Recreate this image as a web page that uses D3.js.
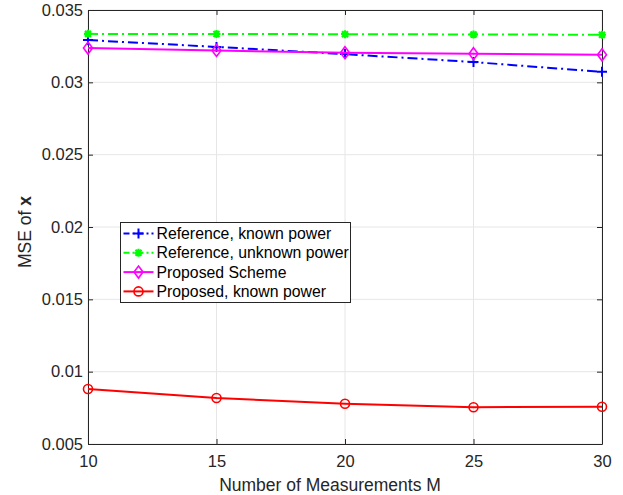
<!DOCTYPE html>
<html>
<head>
<meta charset="utf-8">
<script src="https://cdn.jsdelivr.net/npm/d3@7"></script>
<style>
  body { margin: 0; background: #fff; }
  text { font-family: "Liberation Sans", Arial, sans-serif; }
</style>
</head>
<body>
<script>
// data
const measurements = [10, 15, 20, 25, 30];
const refKnown = [0.03292, 0.03245, 0.03195, 0.0314, 0.03073];
const refUnknown = [0.03335, 0.03334, 0.03333, 0.03331, 0.03329];
const proposed = [0.03237, 0.0322, 0.03205, 0.03198, 0.0319];
const proposedKnown = [0.0088, 0.00818, 0.00778, 0.00754, 0.00758];
const yTicks = [0.005, 0.01, 0.015, 0.02, 0.025, 0.03, 0.035];
const seriesNames = ["Reference, known power", "Reference, unknown power", "Proposed Scheme", "Proposed, known power"];

var W = 623, H = 495;
var margin = { top: 10, right: 21, bottom: 51, left: 88 },
  width = W - margin.left - margin.right,
  height = H - margin.top - margin.bottom;

var svg = d3.select("body").append("svg")
  .attr("width", W)
  .attr("height", H);

var g = svg.append("g").attr("transform", "translate(" + margin.left + "," + margin.top + ")");

var x = d3.scaleLinear().domain([10, 30]).range([0, width]);
var y = d3.scaleLinear().domain([0.005, 0.035]).range([height, 0]);

// grid
g.selectAll(".gx").data(measurements).enter().append("line")
  .attr("x1", d => x(d)).attr("x2", d => x(d))
  .attr("y1", 0).attr("y2", height)
  .attr("stroke", "#e6e6e6");
g.selectAll(".gy").data(yTicks).enter().append("line")
  .attr("x1", 0).attr("x2", width)
  .attr("y1", d => y(d)).attr("y2", d => y(d))
  .attr("stroke", "#e6e6e6");

// axes (matlab style, ticks inward)
var xAxis = g.append("g").attr("transform", "translate(0," + height + ")")
  .call(d3.axisBottom(x).tickValues(measurements).tickSizeInner(-5).tickSizeOuter(0).tickPadding(11));
var yAxis = g.append("g")
  .call(d3.axisLeft(y).tickValues(yTicks).tickFormat(d => +d.toFixed(3) + "").tickSizeInner(-5).tickSizeOuter(0).tickPadding(5));
var xTop = g.append("g")
  .call(d3.axisTop(x).tickValues(measurements).tickFormat("").tickSizeInner(-5).tickSizeOuter(0));
var yRight = g.append("g").attr("transform", "translate(" + width + ",0)")
  .call(d3.axisRight(y).tickValues(yTicks).tickFormat("").tickSizeInner(-5).tickSizeOuter(0));

[xAxis, yAxis, xTop, yRight].forEach(a => {
  a.selectAll("path").attr("stroke", "#262626");
  a.selectAll("line").attr("stroke", "#262626");
  a.selectAll("text").attr("fill", "#262626").style("font-size", "16.5px").style("font-family", "Liberation Sans, Arial, sans-serif");
});

// series
var series = [
  { name: seriesNames[0], vals: refKnown, color: "#0000ff", dash: "10,4,2,4", marker: "plus" },
  { name: seriesNames[1], vals: refUnknown, color: "#00ff00", dash: "10,4,2,4", marker: "star" },
  { name: seriesNames[2], vals: proposed, color: "#ff00ff", dash: null, marker: "diamond" },
  { name: seriesNames[3], vals: proposedKnown, color: "#ff0000", dash: null, marker: "circle" }
];

var line = d3.line().x(d => x(d[0])).y(d => y(d[1]));

function drawMarker(sel, type, color) {
  if (type === "plus") {
    sel.append("path").attr("d", "M-5,0H5M0,-5V5").attr("stroke", color).attr("stroke-width", 2).attr("fill", "none");
  } else if (type === "star") {
    sel.append("path").attr("d", "M-4,0H4M0,-4V4M-3,-3L3,3M-3,3L3,-3").attr("stroke", color).attr("stroke-width", 2.2).attr("fill", "none");
  } else if (type === "diamond") {
    sel.append("path").attr("d", "M0,-6L4.5,0L0,6L-4.5,0Z").attr("stroke", color).attr("stroke-width", 1.6).attr("fill", "none");
  } else {
    sel.append("circle").attr("r", 4.5).attr("stroke", color).attr("stroke-width", 1.6).attr("fill", "none");
  }
}

series.forEach(s => {
  var pts = measurements.map((m, i) => [m, s.vals[i]]);
  g.append("path").datum(pts)
    .attr("d", line)
    .attr("fill", "none")
    .attr("stroke", s.color)
    .attr("stroke-width", 2)
    .attr("stroke-dasharray", s.dash);
  pts.forEach(p => {
    var mk = g.append("g").attr("transform", "translate(" + x(p[0]) + "," + y(p[1]) + ")");
    drawMarker(mk, s.marker, s.color);
  });
});

// axis labels
svg.append("text")
  .attr("x", margin.left + width / 2 - 15)
  .attr("y", 491)
  .attr("text-anchor", "middle")
  .style("font-size", "17.5px")
  .attr("fill", "#262626")
  .text("Number of Measurements M");

var yl = svg.append("text")
  .attr("transform", "translate(31," + (margin.top + height / 2 + 5) + ") rotate(-90)")
  .attr("text-anchor", "middle")
  .style("font-size", "17.5px")
  .attr("fill", "#262626");
yl.append("tspan").text("MSE of ");
yl.append("tspan").attr("font-weight", "bold").text("x");

// legend
var lg = svg.append("g").attr("transform", "translate(120.5,222.5)");
lg.append("rect").attr("width", 230).attr("height", 80)
  .attr("fill", "#fff").attr("stroke", "#262626").attr("stroke-width", 1);
series.forEach((s, i) => {
  var ry = 11 + i * 19.3;
  lg.append("line").attr("x1", 3).attr("x2", 33).attr("y1", ry).attr("y2", ry)
    .attr("stroke", s.color).attr("stroke-width", 2).attr("stroke-dasharray", s.dash ? "6,3,2,3" : null);
  var mk = lg.append("g").attr("transform", "translate(18," + ry + ")");
  drawMarker(mk, s.marker, s.color);
  lg.append("text").attr("x", 36).attr("y", ry + 5.5)
    .style("font-size", "15.8px").attr("fill", "#000").text(s.name);
});
</script>
</body>
</html>
